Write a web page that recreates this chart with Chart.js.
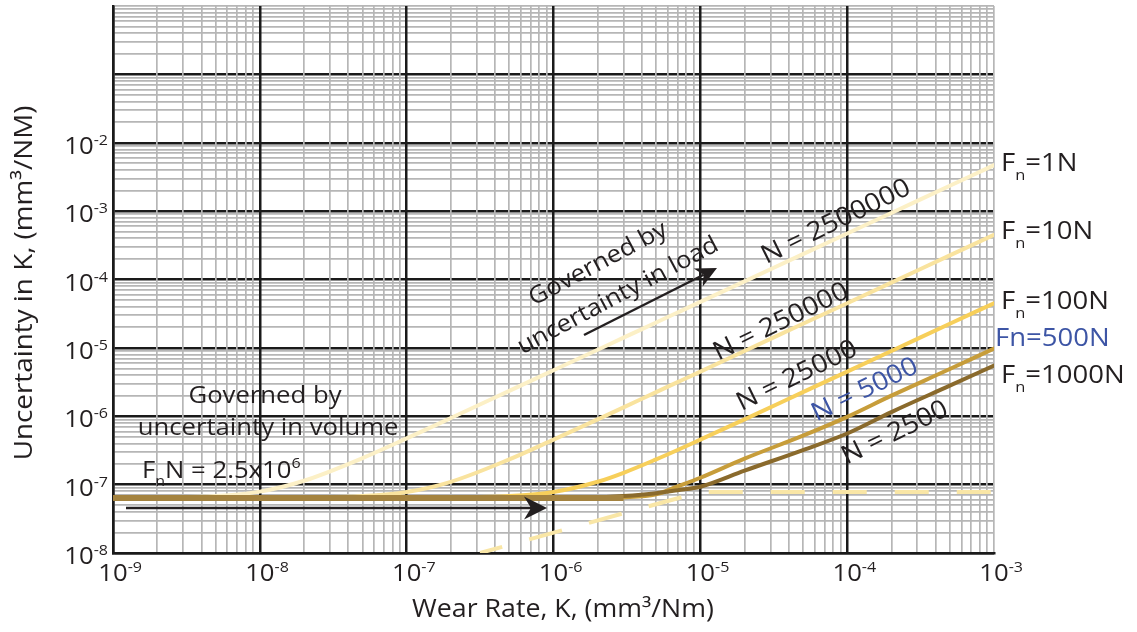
<!DOCTYPE html>
<html><head><meta charset="utf-8">
<script src="https://cdn.jsdelivr.net/npm/chart.js@4.4.1/dist/chart.umd.min.js"></script>
<style>html,body{margin:0;padding:0;background:#fff;}canvas{display:block}</style>
</head><body>
<canvas id="c" width="1137" height="632"></canvas>
<script>
// ---- data ----
const wearRate = [1e-9, 2e-9, 5e-9, 1e-8, 2e-8, 5e-8, 1e-7, 2e-7, 5e-7, 1e-6, 2e-6, 3e-6, 5e-6, 7e-6, 1e-5, 2e-5, 5e-5, 1e-4, 2e-4, 5e-4, 1e-3];
const u1N    = [6.4e-8, 6.5e-8, 6.8e-8, 7.9e-8, 1.14e-7, 2.44e-7, 4.74e-7, 9.42e-7, 2.35e-6, 4.7e-6, 9.4e-6, 1.41e-5, 2.35e-5, 3.29e-5, 4.7e-5, 9.4e-5, 2.35e-4, 4.7e-4, 9.4e-4, 2.35e-3, 4.7e-3];
const u10N   = [6.4e-8, 6.4e-8, 6.4e-8, 6.4e-8, 6.5e-8, 6.8e-8, 7.8e-8, 1.1e-7, 2.34e-7, 4.55e-7, 9.0e-7, 1.35e-6, 2.25e-6, 3.15e-6, 4.5e-6, 9.0e-6, 2.25e-5, 4.5e-5, 9.0e-5, 2.25e-4, 4.5e-4];
const u100N  = [6.4e-8, 6.4e-8, 6.4e-8, 6.4e-8, 6.4e-8, 6.4e-8, 6.4e-8, 6.5e-8, 6.8e-8, 7.8e-8, 1.1e-7, 1.49e-7, 2.34e-7, 3.21e-7, 4.55e-7, 9.0e-7, 2.25e-6, 4.5e-6, 9.0e-6, 2.25e-5, 4.5e-5];
const u500N  = [6.4e-8, 6.4e-8, 6.4e-8, 6.4e-8, 6.4e-8, 6.4e-8, 6.4e-8, 6.4e-8, 6.4e-8, 6.4e-8, 6.4e-8, 6.5e-8, 7.2e-8, 9.4e-8, 1.26e-7, 2.4e-7, 5.2e-7, 9.8e-7, 2.0e-6, 4.9e-6, 9.8e-6];
const u1000N = [6.4e-8, 6.4e-8, 6.4e-8, 6.4e-8, 6.4e-8, 6.4e-8, 6.4e-8, 6.4e-8, 6.4e-8, 6.4e-8, 6.5e-8, 6.8e-8, 7.5e-8, 8.3e-8, 9.3e-8, 1.6e-7, 3.2e-7, 5.6e-7, 1.15e-6, 2.8e-6, 5.5e-6];
const baselineK = [1e-9, 3e-6];
const baselineU = [6.4e-8, 6.4e-8];
const limitK = [3.16e-7, 1e-5, 1e-3];
const limitU = [1e-8, 7.8e-8, 7.8e-8];
const xExponents = [-9, -8, -7, -6, -5, -4, -3];
const yExponents = [-8, -7, -6, -5, -4, -3, -2];
const loadLabels = ['1N', '10N', '100N', '500N', '1000N'];
const cycleLabels = ['N = 2500000', 'N = 250000', 'N = 25000', 'N = 5000', 'N = 2500'];

const FONT = '"Open Sans", "Noto Sans", sans-serif';
const INK = '#231f20';
const BLUE = '#3d55a5';
const SX = 1.07;

const pts = (xs, ys) => xs.map((x, i) => ({x, y: ys[i]}));

function logTicks(minE, maxE) {
  const t = [];
  for (let e = minE; e < maxE; e++) for (let m = 1; m < 10; m++) t.push({value: parseFloat(m + 'e' + e)});
  t.push({value: parseFloat('1e' + maxE)});
  return t;
}
function isMajor(v) { const e = Math.log10(v); return Math.abs(e - Math.round(e)) < 1e-9; }
function gridColor(ctx) {
  const v = ctx.tick.value;
  if (!isMajor(v) || v >= ctx.scale.max * 0.999) return '#b6b6b6';
  return '#1a1a1a';
}
function gridWidth(ctx) {
  const v = ctx.tick.value;
  if (!isMajor(v) || v >= ctx.scale.max * 0.999) return 1.7;
  return 2.5;
}

function rich(ctx, parts, x, y, opt = {}) {
  const {align = 'left', rot = 0, color = INK, sx = SX, baseline = 'alphabetic'} = opt;
  ctx.save();
  ctx.translate(x, y);
  if (rot) ctx.rotate(rot * Math.PI / 180);
  ctx.scale(sx, 1);
  let total = 0;
  parts.forEach(p => { ctx.font = p.size + 'px ' + FONT; p.w = ctx.measureText(p.t).width; total += p.w; });
  let cx = align === 'center' ? -total / 2 : align === 'right' ? -total : 0;
  ctx.textAlign = 'left';
  ctx.textBaseline = baseline;
  parts.forEach(p => {
    ctx.font = p.size + 'px ' + FONT;
    ctx.fillStyle = p.color || color;
    ctx.fillText(p.t, cx, p.dy || 0);
    cx += p.w;
  });
  ctx.restore();
}

function arrow(ctx, x1, y1, x2, y2, L, W, notch) {
  const a = Math.atan2(y2 - y1, x2 - x1);
  ctx.save();
  ctx.strokeStyle = INK; ctx.fillStyle = INK; ctx.lineWidth = 2.5;
  ctx.beginPath();
  ctx.moveTo(x1, y1);
  ctx.lineTo(x2 - Math.cos(a) * (L - notch), y2 - Math.sin(a) * (L - notch));
  ctx.stroke();
  ctx.translate(x2, y2); ctx.rotate(a);
  ctx.beginPath();
  ctx.moveTo(0, 0); ctx.lineTo(-L, -W); ctx.lineTo(-L + notch, 0); ctx.lineTo(-L, W); ctx.closePath();
  ctx.fill();
  ctx.restore();
}

const overlay = {
  id: 'overlay',
  afterDraw(chart) {
    const ctx = chart.ctx, xs = chart.scales.x, ys = chart.scales.y;
    // tick labels
    xExponents.forEach(e => {
      const px = xs.getPixelForValue(Math.pow(10, e));
      ctx.save(); ctx.font = '24px ' + FONT;
      const w = ctx.measureText('10').width * SX; ctx.restore();
      rich(ctx, [{t: '10', size: 24}, {t: String(e), size: 15, dy: -9}], px - w / 2, 581);
    });
    yExponents.forEach(e => {
      const py = ys.getPixelForValue(Math.pow(10, e));
      rich(ctx, [{t: '10', size: 24}, {t: String(e), size: 15, dy: -9}], 108, py + 11, {align: 'right'});
    });
    // axis titles
    rich(ctx, [{t: 'Wear Rate, K, (mm³/Nm)', size: 25}], 563, 617, {align: 'center'});
    rich(ctx, [{t: 'Uncertainty in K, (mm³/NM)', size: 26}], 32, 283, {align: 'center', rot: -90});
    // annotations: volume regime
    rich(ctx, [{t: 'Governed by', size: 24}], 265, 403, {align: 'center'});
    rich(ctx, [{t: 'uncertainty in volume', size: 24}], 268, 435, {align: 'center'});
    rich(ctx, [{t: 'F', size: 24}, {t: 'n', size: 15, dy: 8}, {t: 'N = 2.5x10', size: 24}, {t: '6', size: 15, dy: -10}], 142, 478);
    arrow(ctx, 126, 508, 547, 508, 23, 11.5, 7);
    // annotations: load regime
    rich(ctx, [{t: 'Governed by', size: 24}], 598, 264, {align: 'center', rot: -28, baseline: 'middle'});
    rich(ctx, [{t: 'uncertainty in load', size: 24}], 618, 296, {align: 'center', rot: -28, baseline: 'middle'});
    arrow(ctx, 584, 335, 717, 268, 21, 10, 6);
    // cycle labels along curves
    const cyc = [[836, 222, INK], [781, 322, INK], [797, 376, INK], [865, 390, BLUE], [895, 433, INK]];
    cycleLabels.forEach((s, i) => {
      rich(ctx, [{t: s, size: 26}], cyc[i][0], cyc[i][1], {align: 'center', rot: -26, baseline: 'middle', color: cyc[i][2]});
    });
    // load labels at right
    const lab = [171, 239, 309, 346, 383];
    loadLabels.forEach((s, i) => {
      if (s === '500N') {
        rich(ctx, [{t: 'Fn=' + s, size: 25}], 995, lab[i], {color: BLUE, sx: 1.1});
      } else {
        rich(ctx, [{t: 'F', size: 25}, {t: 'n', size: 15, dy: 9}, {t: '=' + s, size: 25}], 1001, lab[i], {sx: 1.1});
      }
    });
  }
};

const common = {pointRadius: 0, pointHoverRadius: 0, fill: false, cubicInterpolationMode: 'monotone', borderCapStyle: 'round'};

new Chart(document.getElementById('c'), {
  type: 'line',
  data: {
    datasets: [
      Object.assign({label: 'baseline', data: pts(baselineK, baselineU), borderColor: '#a48340', borderWidth: 6, order: 0}, common, {borderCapStyle: 'butt'}),
      Object.assign({label: 'Fn=1000N', data: pts(wearRate, u1000N), borderColor: '#8a6a2c', borderWidth: 4, order: 1}, common),
      Object.assign({label: 'Fn=500N', data: pts(wearRate, u500N), borderColor: '#c79d3a', borderWidth: 4, order: 2}, common),
      Object.assign({label: 'Fn=100N', data: pts(wearRate, u100N), borderColor: '#f7cf5a', borderWidth: 4, order: 3}, common),
      Object.assign({label: 'Fn=10N', data: pts(wearRate, u10N), borderColor: '#f9e39e', borderWidth: 4, order: 4}, common),
      Object.assign({label: 'Fn=1N', data: pts(wearRate, u1N), borderColor: '#fcf0c6', borderWidth: 4, order: 5}, common),
      Object.assign({label: 'limit', data: pts(limitK, limitU), borderColor: '#f9e6a6', borderWidth: 4, borderDash: [34, 28], borderDashOffset: 11, order: 6}, common, {cubicInterpolationMode: 'default', tension: 0, borderCapStyle: 'butt'})
    ]
  },
  options: {
    responsive: false,
    devicePixelRatio: 1,
    animation: false,
    events: [],
    layout: {padding: {left: 113, right: 143, top: 6, bottom: 79}},
    plugins: {legend: {display: false}, tooltip: {enabled: false}},
    scales: {
      x: {
        type: 'logarithmic', min: 1e-9, max: 1e-3,
        afterBuildTicks: (s) => { s.ticks = logTicks(-9, -3); },
        ticks: {display: false},
        grid: {color: gridColor, lineWidth: gridWidth, drawTicks: false, z: -1},
        border: {display: true, color: '#1a1a1a', width: 2.5}
      },
      y: {
        type: 'logarithmic', min: 1e-8, max: 1,
        afterBuildTicks: (s) => { s.ticks = logTicks(-8, 0); },
        ticks: {display: false},
        grid: {color: gridColor, lineWidth: gridWidth, drawTicks: false, z: -2},
        border: {display: true, color: '#1a1a1a', width: 2.5}
      }
    }
  },
  plugins: [overlay]
});
</script>
</body></html>
